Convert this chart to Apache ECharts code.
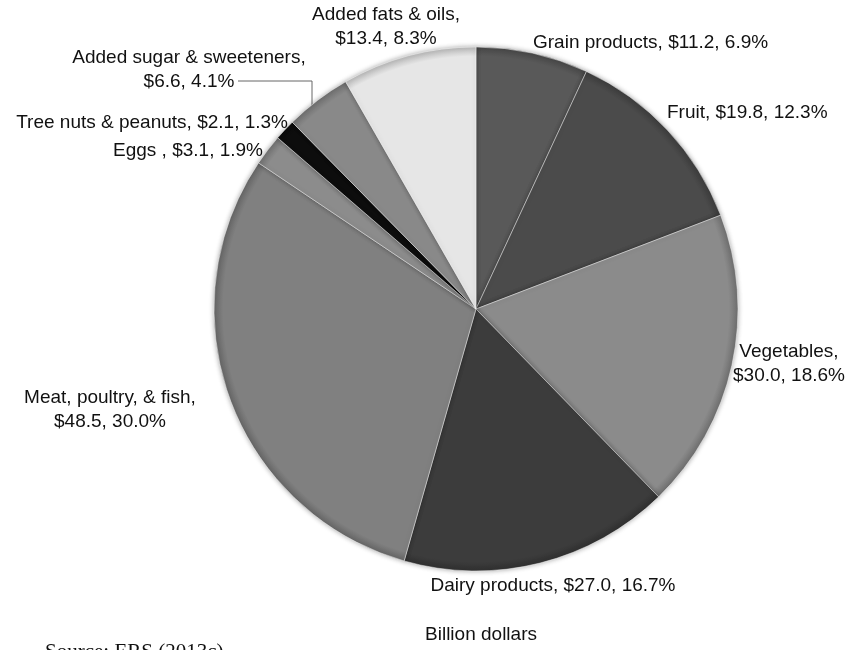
<!DOCTYPE html>
<html>
<head>
<meta charset="utf-8">
<script src="https://cdn.jsdelivr.net/npm/echarts@6/dist/echarts.min.js"></script>
<style>
  html, body { margin: 0; padding: 0; background: #fff; }
  #chart { width: 857px; height: 650px; }
</style>
</head>
<body>
<div id="chart"></div>
<script>
// Food spending by category, billion dollars and share of total
const categories = ['Grain products', 'Fruit', 'Vegetables', 'Dairy products', 'Meat, poultry, & fish', 'Eggs ', 'Tree nuts & peanuts', 'Added sugar & sweeteners', 'Added fats & oils'];
const dollars = [11.2, 19.8, 30.0, 27.0, 48.5, 3.1, 2.1, 6.6, 13.4];
const shares = [6.9, 12.3, 18.6, 16.7, 30.0, 1.9, 1.3, 4.1, 8.3];
// whether the value part of the label goes on its own line
const twoLine = [false, false, true, false, true, false, false, true, true];

const sliceColors = ['#595959', '#4b4b4b', '#8b8b8b', '#3c3c3c', '#808080', '#8c8c8c', '#0d0d0d', '#898989', '#e6e6e6'];

// label anchor points [x, y, align]
const labelSpots = [
  [533, 43, 'left'],
  [667, 113, 'left'],
  [789, 364, 'center'],
  [553, 586, 'center'],
  [110, 410, 'center'],
  [263, 151, 'right'],
  [288, 123, 'right'],
  [189, 70, 'center'],
  [386, 27, 'center']
];

const cx = 476, cy = 309, R = 262;
const labelFont = '"Liberation Sans", Arial, Helvetica, sans-serif';

function shade(hex, k) {
  const n = parseInt(hex.slice(1), 16);
  const f = c => Math.max(0, Math.min(255, Math.round(c * k)));
  const r = f(n >> 16), g = f((n >> 8) & 255), b = f(n & 255);
  return 'rgb(' + r + ',' + g + ',' + b + ')';
}

const data = categories.map((name, i) => ({
  name: name,
  value: dollars[i],
  itemStyle: {
    color: {
      type: 'radial', x: cx, y: cy, r: R, global: true,
      colorStops: [
        { offset: 0, color: sliceColors[i] },
        { offset: 0.965, color: sliceColors[i] },
        { offset: 1, color: shade(sliceColors[i], 0.8) }
      ]
    }
  },
  label: { align: labelSpots[i][2] },
  labelLine: { show: i === 7 }
}));

const chart = echarts.init(document.getElementById('chart'), null, { renderer: 'canvas' });

chart.setOption({
  backgroundColor: '#ffffff',
  animation: false,
  series: [{
    type: 'pie',
    center: [cx, cy],
    radius: [0, R],
    startAngle: 90,
    clockwise: true,
    avoidLabelOverlap: false,
    data: data,
    itemStyle: {
      borderColor: 'rgba(255,255,255,0.45)',
      borderWidth: 1,
      shadowBlur: 5,
      shadowColor: 'rgba(0,0,0,0.35)'
    },
    label: {
      show: true,
      color: '#111',
      fontFamily: labelFont,
      fontSize: 19,
      lineHeight: 24,
      formatter: p => {
        const i = p.dataIndex;
        const val = '$' + dollars[i].toFixed(1) + ', ' + shares[i].toFixed(1) + '%';
        return p.name + ',' + (twoLine[i] ? '\n' : ' ') + val;
      }
    },
    labelLine: {
      show: false,
      lineStyle: { color: '#666', width: 1 }
    },
    labelLayout: params => {
      const s = labelSpots[params.dataIndex];
      const out = { x: s[0], y: s[1], align: s[2], verticalAlign: 'middle' };
      if (params.dataIndex === 7) {
        out.labelLinePoints = [[312, 107], [312, 81], [238, 81]];
      }
      return out;
    }
  }],
  graphic: [
    {
      type: 'text',
      x: 481,
      y: 635,
      style: {
        text: 'Billion dollars',
        fill: '#111',
        font: '19px ' + labelFont,
        align: 'center',
        verticalAlign: 'middle'
      }
    },
    {
      type: 'text',
      x: 45,
      y: 642,
      style: {
        text: 'Source: ERS (2013c)',
        fill: '#111',
        font: '21px "Liberation Serif", "Times New Roman", serif',
        align: 'left',
        verticalAlign: 'top'
      }
    }
  ]
});
</script>
</body>
</html>
